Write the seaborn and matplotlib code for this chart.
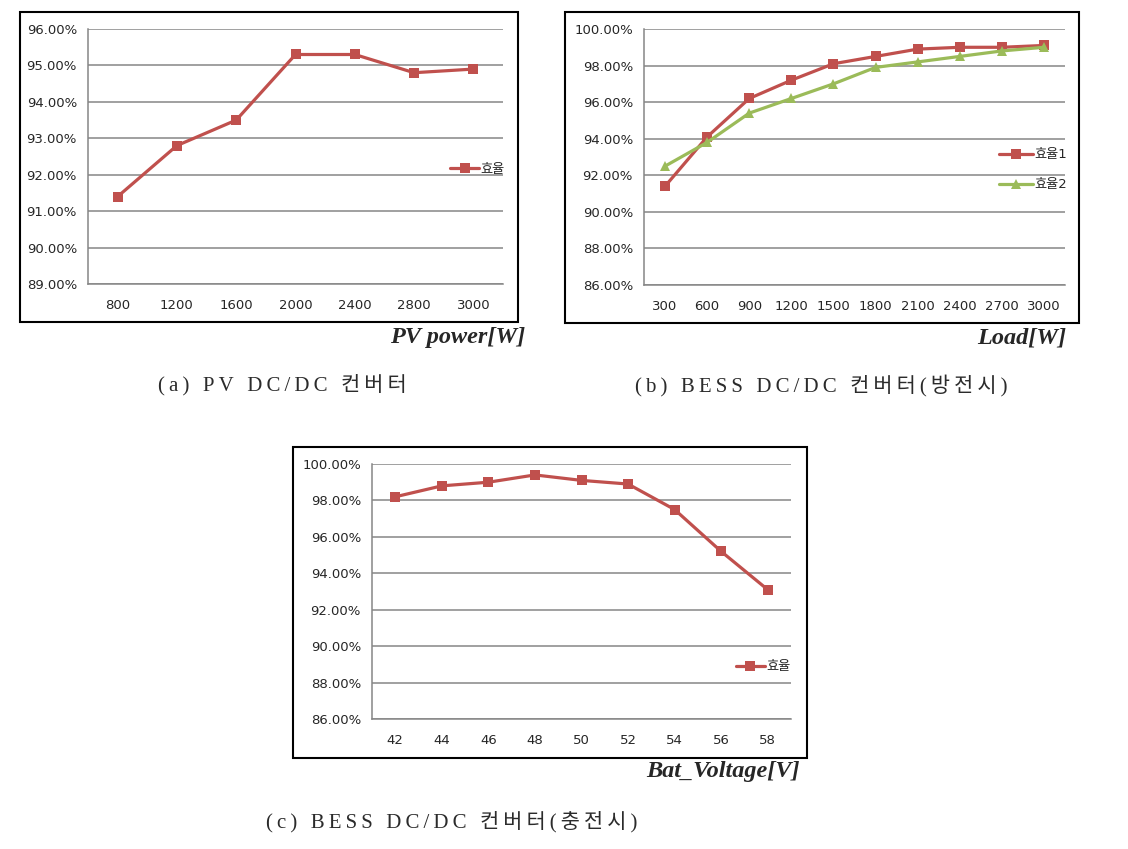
import numpy as np
import pandas as pd
import matplotlib
matplotlib.use("Agg")
import matplotlib.pyplot as plt
import matplotlib.patches as patches
import seaborn as sns

# dados
pv_power = ["800", "1200", "1600", "2000", "2400", "2800", "3000"]
pv_eff = [91.4, 92.8, 93.5, 95.3, 95.3, 94.8, 94.9]

load_w = ["300", "600", "900", "1200", "1500", "1800", "2100", "2400", "2700", "3000"]
load_eff1 = [91.4, 94.1, 96.2, 97.2, 98.1, 98.5, 98.9, 99.0, 99.0, 99.1]
load_eff2 = [92.5, 93.8, 95.4, 96.2, 97.0, 97.9, 98.2, 98.5, 98.8, 99.0]

bat_v = ["42", "44", "46", "48", "50", "52", "54", "56", "58"]
bat_eff = [98.2, 98.8, 99.0, 99.4, 99.1, 98.9, 97.5, 95.2, 93.1]

RED = "#C0504D"
GREEN = "#9BBB59"
GRID = "#868686"

sns.set_style("white")
plt.rcParams["font.family"] = ["DejaVu Sans", "Noto Sans CJK KR"]

W, H = 1128, 849
fig = plt.figure(figsize=(W / 100, H / 100), dpi=100)


def px_axes(x0, y0, x1, y1):
    return fig.add_axes([x0 / W, 1 - y1 / H, (x1 - x0) / W, (y1 - y0) / H])


def frame(x0, y0, x1, y1):
    fig.patches.append(patches.Rectangle((x0 / W, 1 - y1 / H), (x1 - x0) / W, (y1 - y0) / H,
                                         transform=fig.transFigure, fill=False,
                                         edgecolor="black", linewidth=1.5))


def style_axes(ax, cats, ymin, ymax, step):
    n = len(cats)
    ax.set_xlim(-0.5, n - 0.5)
    ax.set_ylim(ymin, ymax)
    yt = np.arange(ymin, ymax + 0.01, step)
    ax.set_yticks(yt)
    ax.set_yticklabels([f"{v:.2f}%" for v in yt], fontsize=9.5)
    ax.set_xticks(range(n))
    ax.set_xticklabels(cats, fontsize=9.5)
    ax.set_xticks(np.arange(-0.5, n), minor=True)
    ax.tick_params(axis="x", which="major", length=0, pad=11)
    ax.tick_params(axis="x", which="minor", length=5, color=GRID, width=1)
    ax.tick_params(axis="y", length=5, color=GRID, width=1, pad=3)
    ax.yaxis.grid(True, color=GRID, linewidth=1.1)
    ax.xaxis.grid(False)
    for s in ["top", "right"]:
        ax.spines[s].set_visible(False)
    for s in ["left", "bottom"]:
        ax.spines[s].set_color(GRID)
        ax.spines[s].set_linewidth(1.1)
    ax.set_xlabel("")
    ax.set_ylabel("")
    ax.set_facecolor("none")


line_kw = dict(linewidth=2.3, markersize=7, markeredgewidth=0)

# (a)
frame(20, 12, 518, 322)
ax1 = px_axes(88, 29, 503, 284)
df_a = pd.DataFrame({"x": pv_power, "y": pv_eff})
sns.lineplot(data=df_a, x="x", y="y", ax=ax1, color=RED, marker="s", label="효율", **line_kw)
style_axes(ax1, pv_power, 89, 96, 1)
ax1.legend(loc="center left", bbox_to_anchor=(0.86, 0.45), frameon=False, fontsize=9.5,
           handlelength=2.2, handletextpad=0.1, borderaxespad=0)

# (b)
frame(565, 12, 1079, 323)
ax2 = px_axes(644, 29, 1065, 285)
df_b = pd.DataFrame({"x": load_w * 2, "y": load_eff1 + load_eff2,
                     "s": ["효율1"] * len(load_w) + ["효율2"] * len(load_w)})
sns.lineplot(data=df_b[df_b.s == "효율1"], x="x", y="y", ax=ax2, color=RED, marker="s",
             label="효율1", **line_kw)
sns.lineplot(data=df_b[df_b.s == "효율2"], x="x", y="y", ax=ax2, color=GREEN, marker="^",
             label="효율2", **line_kw)
style_axes(ax2, load_w, 86, 100, 2)
ax2.legend(loc="center left", bbox_to_anchor=(0.83, 0.45), frameon=False, fontsize=9.5,
           handlelength=2.6, handletextpad=0.1, borderaxespad=0, labelspacing=1.3)

# (c)
frame(293, 447, 807, 758)
ax3 = px_axes(372, 464, 791, 719)
df_c = pd.DataFrame({"x": bat_v, "y": bat_eff})
sns.lineplot(data=df_c, x="x", y="y", ax=ax3, color=RED, marker="s", label="효율", **line_kw)
style_axes(ax3, bat_v, 86, 100, 2)
ax3.legend(loc="center left", bbox_to_anchor=(0.855, 0.205), frameon=False, fontsize=9.5,
           handlelength=2.2, handletextpad=0.1, borderaxespad=0)

# rótulos dos eixos (serifa, negrito itálico)
lab_kw = dict(fontfamily="Liberation Serif", fontweight="bold", fontstyle="italic",
              fontsize=17.5, ha="right", va="center")
fig.text(525 / W, 1 - 338 / H, "PV power[W]", **lab_kw)
fig.text(1066 / W, 1 - 338 / H, "Load[W]", **lab_kw)
fig.text(800 / W, 1 - 772 / H, "Bat_Voltage[V]", **lab_kw)


def spaced(s):
    # espaçamento entre letras, como na legenda original
    return "\u2009".join(s)


# legendas das figuras
cap_kw = dict(fontfamily=["Liberation Serif", "DejaVu Serif", "Noto Sans CJK KR"], fontsize=15,
              fontweight="light", ha="center", va="center", color="#2b2b2b")
fig.text(282 / W, 1 - 385 / H, spaced("(a) PV DC/DC 컨버터"), **cap_kw)
fig.text(821 / W, 1 - 385 / H, spaced("(b) BESS DC/DC 컨버터(방전시)"), **cap_kw)
fig.text(452 / W, 1 - 822 / H, spaced("(c) BESS DC/DC 컨버터(충전시)"), **cap_kw)

fig.savefig("out.png", dpi=100, facecolor="white")
